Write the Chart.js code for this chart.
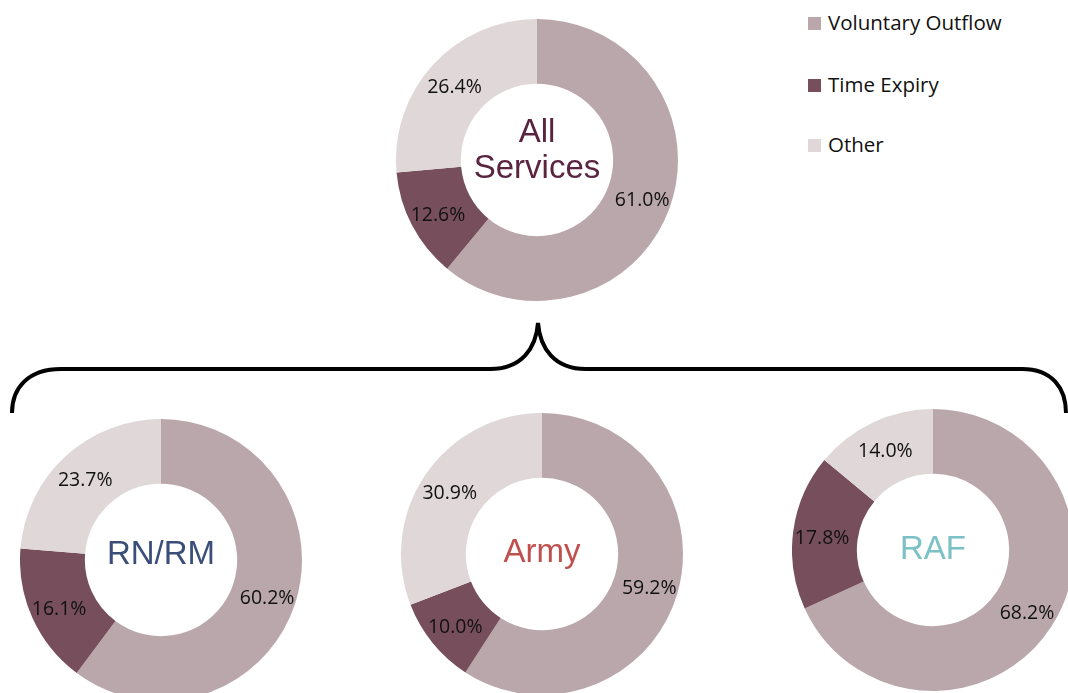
<!DOCTYPE html>
<html lang="en">
<head>
    <meta charset="UTF-8">
    <title>Outflow by reason</title>
    <style>
        body {
            margin: 0;
            background: #fff;
            font-family: "Open Sans", sans-serif;
        }
        #wrap {
            position: relative;
            width: 1068px;
            height: 693px;
            overflow: hidden;
        }
        .pie {
            position: absolute;
            width: 282px;
            height: 282px;
        }
        #legend {
            position: absolute;
            left: 808px;
            top: 0;
            font-size: 20.5px;
            color: #111;
        }
        #legend div {
            position: absolute;
            white-space: nowrap;
            line-height: 20px;
        }
        #legend span {
            display: inline-block;
            width: 13px;
            height: 13px;
            margin-right: 7px;
            vertical-align: 0px;
        }
        svg {
            position: absolute;
            left: 0;
            top: 0;
        }
    </style>
</head>
<body>
<div id="wrap">
    <svg width="1068" height="693">
        <path d="M12,413 C12,388 28,369 61,369 L490,369 C522,369 536,348 538,323 C540,348 554,369 586,369 L1022,369 C1052,369 1066,388 1066,413"
              fill="none" stroke="#000" stroke-width="4"/>
    </svg>
    <div class="pie" style="left:396px;top:19px"><canvas id="allChart"></canvas></div>
    <div class="pie" style="left:20px;top:419px"><canvas id="rnChart"></canvas></div>
    <div class="pie" style="left:401px;top:413px"><canvas id="armyChart"></canvas></div>
    <div class="pie" style="left:792px;top:409px"><canvas id="rafChart"></canvas></div>
    <div id="legend"></div>
</div>

<script src="https://cdn.jsdelivr.net/npm/chart.js"></script>
<script>
    // categories + colours
    const reasons = ['Voluntary Outflow', 'Time Expiry', 'Other'];
    const reasonColors = ['#BAA7AB', '#774F5C', '#E0D7D9'];

    // % of outflow per service
    const allServices = [61.0, 12.6, 26.4];
    const rnRm = [60.2, 16.1, 23.7];
    const army = [59.2, 10.0, 30.9];
    const raf = [68.2, 17.8, 14.0];

    // legend (plain html)
    const legendTops = [12, 74, 134];
    const legend = document.getElementById('legend');
    reasons.forEach((r, i) => {
        const d = document.createElement('div');
        d.style.top = legendTops[i] + 'px';
        d.innerHTML = '<span style="background:' + reasonColors[i] + '"></span>' + r;
        legend.appendChild(d);
    });

    // draws % labels on the ring and the service name in the hole
    const ringText = {
        id: 'ringText',
        afterDatasetsDraw(chart, args, opts) {
            const ctx = chart.ctx;
            const meta = chart.getDatasetMeta(0);
            const c = meta.data[0];
            ctx.save();
            ctx.fillStyle = '#111';
            ctx.font = '19.5px "Open Sans"';
            ctx.textAlign = 'center';
            ctx.textBaseline = 'middle';
            meta.data.forEach((arc, i) => {
                const p = arc.tooltipPosition();
                // excel puts them a touch further out
                const x = c.x + (p.x - c.x) * 1.03;
                const y = c.y + (p.y - c.y) * 1.03 + 3;
                const v = chart.data.datasets[0].data[i];
                ctx.fillText(v.toFixed(1) + '%', x, y);
            });
            ctx.fillStyle = opts.color;
            ctx.font = '33px "Liberation Sans"';
            ctx.textBaseline = 'alphabetic';
            opts.lines.forEach((t, j) => {
                ctx.fillText(t, c.x, c.y + opts.baselines[j]);
            });
            ctx.restore();
        }
    };

    function makeDonut(id, values, lines, color, baselines) {
        const ctx = document.getElementById(id).getContext('2d');
        return new Chart(ctx, {
            type: 'doughnut',
            data: {
                labels: reasons,
                datasets: [{
                    data: values,
                    backgroundColor: reasonColors,
                    borderWidth: 0
                }]
            },
            options: {
                responsive: true,
                maintainAspectRatio: false,
                animation: false,
                cutout: '54%',
                plugins: {
                    legend: { display: false },
                    tooltip: { enabled: false },
                    ringText: { lines: lines, color: color, baselines: baselines }
                }
            },
            plugins: [ringText]
        });
    }

    makeDonut('allChart', allServices, ['All', 'Services'], '#5A2440', [-18, 18]);
    makeDonut('rnChart', rnRm, ['RN/RM'], '#3B4E7A', [4]);
    makeDonut('armyChart', army, ['Army'], '#C0504D', [8]);
    makeDonut('rafChart', raf, ['RAF'], '#7CC1C6', [9]);
</script>
</body>
</html>
